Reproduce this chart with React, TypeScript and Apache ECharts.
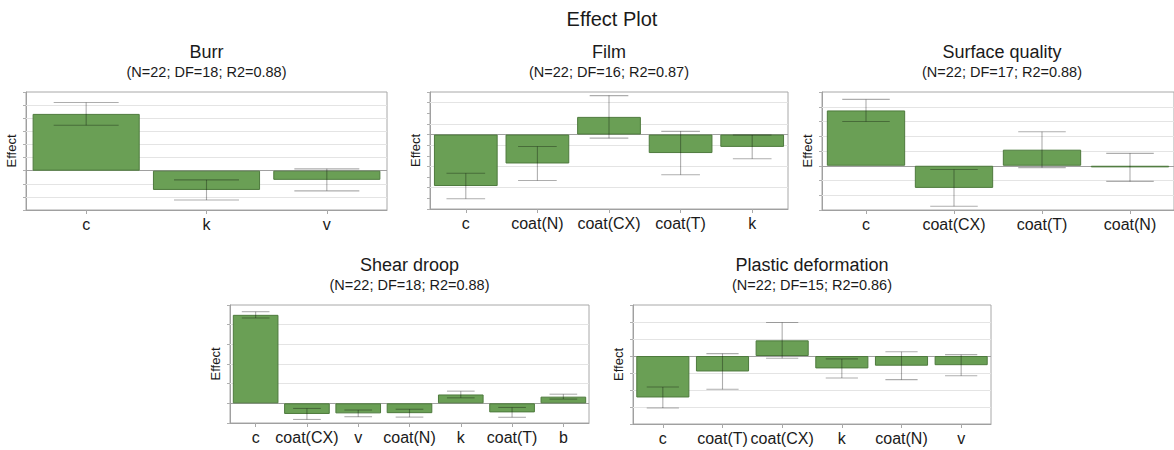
import React, { useEffect, useRef } from "react";
import * as echarts from "echarts";

const burrCats = ["c", "k", "v"];
const burrEffects = [4.33, -1.47, -0.7];
const burrErr = [0.87, 0.77, 0.84];
const burrGrid = [-2, -1, 1, 2, 3, 4, 5];

const filmCats = ["c", "coat(N)", "coat(CX)", "coat(T)", "k"];
const filmEffects = [-2.42, -1.36, 0.83, -0.87, -0.58];
const filmErr = [0.6, 0.8, 1.0, 1.02, 0.56];
const filmGrid = [-2.5, -1.5, -0.5, 0.5, 1.5];

const sqCats = ["c", "coat(CX)", "coat(T)", "coat(N)"];
const sqEffects = [3.75, -1.5, 1.09, -0.11];
const sqErr = [0.75, 1.25, 1.22, 0.95];
const sqGrid = [-2, -1, 1, 2, 3, 4];

const shearCats = ["c", "coat(CX)", "v", "coat(N)", "k", "coat(T)", "b"];
const shearEffects = [4.5, -0.54, -0.51, -0.5, 0.45, -0.46, 0.34];
const shearErr = [0.16, 0.28, 0.17, 0.2, 0.17, 0.25, 0.125];
const shearGrid = [1, 2, 3, 4];

const plasticCats = ["c", "coat(T)", "coat(CX)", "k", "coat(N)", "v"];
const plasticEffects = [-2.44, -0.91, 0.92, -0.73, -0.57, -0.54];
const plasticErr = [0.62, 1.05, 1.05, 0.56, 0.82, 0.62];
const plasticGrid = [-3, -2, -1, 1, 2];

const FONT = "'Liberation Sans', Arial, sans-serif";

type Panel = {
  title: string;
  sub: string;
  cats: string[];
  eff: number[];
  err: number[];
  grid: number[];
  min: number;
  max: number;
  interval: number;
  left: number;
  right: number;
  top: number;
  height: number;
};

const panels: Panel[] = [
  { title: "Burr", sub: "(N=22; DF=18; R2=0.88)", cats: burrCats, eff: burrEffects, err: burrErr, grid: burrGrid, min: -3, max: 6, interval: 1, left: 26, right: 787, top: 92, height: 118 },
  { title: "Film", sub: "(N=22; DF=16; R2=0.87)", cats: filmCats, eff: filmEffects, err: filmErr, grid: filmGrid, min: -3.5, max: 2, interval: 0.5, left: 430, right: 386, top: 92, height: 117 },
  { title: "Surface quality", sub: "(N=22; DF=17; R2=0.88)", cats: sqCats, eff: sqEffects, err: sqErr, grid: sqGrid, min: -3, max: 5, interval: 1, left: 822, right: -8, top: 92, height: 118 },
  { title: "Shear droop", sub: "(N=22; DF=18; R2=0.88)", cats: shearCats, eff: shearEffects, err: shearErr, grid: shearGrid, min: -1, max: 5, interval: 1, left: 230, right: 585, top: 305, height: 118 },
  { title: "Plastic deformation", sub: "(N=22; DF=15; R2=0.86)", cats: plasticCats, eff: plasticEffects, err: plasticErr, grid: plasticGrid, min: -4, max: 3, interval: 1, left: 633, right: 183, top: 305, height: 119 },
];

export default function App() {
  const ref = useRef<HTMLDivElement>(null);
  useEffect(() => {
    if (!ref.current) return;
    const chart = echarts.init(ref.current, null, { renderer: "svg" });
    const W = 1174;
    const grids: any[] = [];
    const xAxes: any[] = [];
    const yAxes: any[] = [];
    const series: any[] = [];
    const graphics: any[] = [
      { type: "text", x: 612, y: 19, style: { text: "Effect Plot", textAlign: "center", textVerticalAlign: "middle", fontSize: 20, fontFamily: FONT, fill: "#1a1a1a" } },
    ];
    panels.forEach((p, i) => {
      grids.push({ left: p.left, right: p.right, top: p.top, height: p.height, show: true, borderColor: "#a8a8a8", borderWidth: 1, backgroundColor: "#fff" });
      const cx = (p.left + (W - p.right)) / 2;
      graphics.push({ type: "text", x: cx, y: p.top - 40, style: { text: p.title, textAlign: "center", textVerticalAlign: "middle", fontSize: 18, fontFamily: FONT, fill: "#1a1a1a" } });
      graphics.push({ type: "text", x: cx, y: p.top - 20, style: { text: p.sub, textAlign: "center", textVerticalAlign: "middle", fontSize: 14.5, fontFamily: FONT, fill: "#1a1a1a" } });
      xAxes.push({
        type: "category", gridIndex: i, data: p.cats,
        axisLine: { show: true, onZero: false, lineStyle: { color: "#a0a0a0" } },
        axisTick: { show: true, alignWithLabel: true, length: 4, lineStyle: { color: "#a8a8a8" } },
        axisLabel: { interval: 0, fontSize: 16, color: "#1a1a1a", fontFamily: FONT, margin: 6 },
        splitLine: { show: false },
      });
      yAxes.push({
        type: "value", gridIndex: i, min: p.min, max: p.max, interval: p.interval,
        name: "Effect", nameLocation: "middle", nameRotate: 90, nameGap: 8,
        nameTextStyle: { fontSize: 13, color: "#1a1a1a", fontFamily: FONT },
        axisLine: { show: true, lineStyle: { color: "#a0a0a0" } },
        axisTick: { show: true, length: 3, lineStyle: { color: "#b0b0b0" } },
        axisLabel: { show: false },
        splitLine: { show: false },
      });
      series.push({
        type: "bar", xAxisIndex: i, yAxisIndex: i, data: p.eff, barWidth: "89%", z: 2,
        itemStyle: { color: "#6a9f55", borderColor: "#4e7a3d", borderWidth: 1 },
        markLine: {
          silent: true, symbol: "none", z: 1, label: { show: false },
          lineStyle: { color: "#e4e4e4", type: "solid", width: 1 },
          data: [
            ...p.grid.map((v) => ({ yAxis: v })),
            { yAxis: 0, lineStyle: { color: "#a0a0a0", type: "solid", width: 1.2 } },
          ],
        },
      });
      series.push({
        type: "custom", xAxisIndex: i, yAxisIndex: i, z: 3,
        data: p.eff.map((e, k) => [k, e - p.err[k], e + p.err[k]]),
        renderItem: (params: any, api: any) => {
          const x = api.value(0);
          const lo = api.coord([x, api.value(1)]);
          const hi = api.coord([x, api.value(2)]);
          const hw = api.size([1, 0])[0] * 0.27;
          const st = { stroke: "rgba(0,0,0,0.32)", lineWidth: 1.1 };
          return {
            type: "group",
            children: [
              { type: "line", shape: { x1: hi[0], y1: hi[1], x2: lo[0], y2: lo[1] }, style: st },
              { type: "line", shape: { x1: hi[0] - hw, y1: hi[1], x2: hi[0] + hw, y2: hi[1] }, style: st },
              { type: "line", shape: { x1: lo[0] - hw, y1: lo[1], x2: lo[0] + hw, y2: lo[1] }, style: st },
            ],
          };
        },
      });
    });
    chart.setOption({
      animation: false,
      backgroundColor: "#fff",
      grid: grids,
      xAxis: xAxes,
      yAxis: yAxes,
      series,
      graphic: graphics,
    });
    return () => chart.dispose();
  }, []);
  return <div ref={ref} style={{ position: "fixed", left: 0, top: 0, width: 1174, height: 450 }} />;
}
